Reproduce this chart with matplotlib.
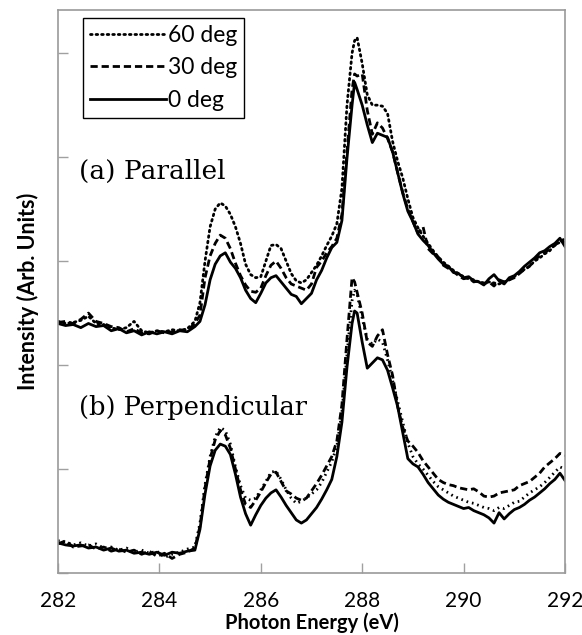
import matplotlib
matplotlib.use("Agg")
import matplotlib.pyplot as plt

# photon energy grid (eV)
energy = [282.0, 282.15, 282.3, 282.45, 282.6, 282.75, 282.9, 283.05, 283.2, 283.35,
          283.5, 283.65, 283.8, 283.95, 284.1, 284.25, 284.4, 284.55, 284.7,
          284.8, 284.9, 285.0, 285.1, 285.2, 285.3, 285.4, 285.5, 285.6, 285.7,
          285.8, 285.9, 286.0, 286.1, 286.2, 286.3, 286.4, 286.5, 286.6, 286.7,
          286.8, 286.9, 287.0, 287.1, 287.2, 287.3, 287.4, 287.5, 287.6, 287.7,
          287.8, 287.85, 287.9, 288.0, 288.1, 288.2, 288.3, 288.4, 288.5, 288.6,
          288.7, 288.8, 288.9, 289.0, 289.1, 289.2, 289.3, 289.4, 289.5, 289.6,
          289.7, 289.8, 289.9, 290.0, 290.1, 290.2, 290.3, 290.4, 290.5, 290.6,
          290.7, 290.8, 290.9, 291.0, 291.1, 291.2, 291.3, 291.4, 291.5, 291.6,
          291.7, 291.8, 291.9, 292.0]

# (a) Parallel
par_60 = [2.42, 2.40, 2.41, 2.43, 2.47, 2.40, 2.39, 2.36, 2.34, 2.36,
          2.42, 2.33, 2.31, 2.33, 2.32, 2.34, 2.33, 2.35, 2.42,
          2.60, 3.00, 3.33, 3.50, 3.56, 3.53, 3.45, 3.33, 3.17, 2.97,
          2.87, 2.84, 2.85, 3.00, 3.15, 3.16, 3.12, 3.00, 2.88, 2.81,
          2.79, 2.82, 2.89, 2.96, 3.05, 3.15, 3.24, 3.36, 3.70, 4.50,
          5.00, 5.12, 5.15, 4.90, 4.60, 4.50, 4.50, 4.49, 4.42, 4.15,
          3.96, 3.80, 3.60, 3.42, 3.32, 3.24, 3.17, 3.10, 3.04, 2.99,
          2.95, 2.91, 2.88, 2.85, 2.83, 2.82, 2.80, 2.79, 2.80, 2.79,
          2.78, 2.80, 2.82, 2.85, 2.89, 2.92, 2.95, 3.00, 3.03, 3.07,
          3.10, 3.16, 3.18, 3.22]
par_30 = [2.41, 2.42, 2.40, 2.44, 2.50, 2.42, 2.40, 2.37, 2.36, 2.32,
          2.35, 2.31, 2.30, 2.33, 2.31, 2.32, 2.34, 2.33, 2.40,
          2.48, 2.84, 3.05, 3.17, 3.25, 3.22, 3.12, 2.98, 2.86, 2.77,
          2.71, 2.70, 2.74, 2.86, 2.96, 3.00, 2.93, 2.84, 2.78, 2.76,
          2.74, 2.72, 2.78, 2.94, 3.00, 3.08, 3.14, 3.22, 3.45, 4.05,
          4.65, 4.80, 4.78, 4.80, 4.45, 4.22, 4.33, 4.28, 4.18, 4.05,
          3.85, 3.66, 3.50, 3.38, 3.27, 3.33, 3.12, 3.07, 3.04, 2.96,
          2.93, 2.90, 2.86, 2.83, 2.84, 2.80, 2.81, 2.78, 2.80, 2.76,
          2.82, 2.80, 2.82, 2.84, 2.88, 2.92, 2.95, 3.01, 3.05, 3.08,
          3.12, 3.15, 3.20, 3.18]
par_0 = [2.40, 2.38, 2.39, 2.36, 2.40, 2.37, 2.38, 2.33, 2.35, 2.31,
         2.33, 2.29, 2.32, 2.30, 2.32, 2.30, 2.33, 2.32, 2.37,
         2.42, 2.58, 2.82, 2.97, 3.05, 3.08, 2.99, 2.93, 2.84, 2.72,
         2.64, 2.60, 2.69, 2.79, 2.84, 2.86, 2.80, 2.74, 2.68, 2.66,
         2.59, 2.64, 2.69, 2.82, 2.91, 3.03, 3.13, 3.18, 3.39, 3.99,
         4.50, 4.72, 4.65, 4.50, 4.31, 4.14, 4.23, 4.21, 4.19, 4.05,
         3.85, 3.65, 3.48, 3.38, 3.26, 3.20, 3.15, 3.08, 3.02, 2.97,
         2.95, 2.89, 2.88, 2.84, 2.85, 2.81, 2.80, 2.77, 2.83, 2.87,
         2.81, 2.78, 2.84, 2.86, 2.90, 2.95, 2.99, 3.03, 3.08, 3.10,
         3.14, 3.17, 3.22, 3.14]

# (b) Perpendicular
perp_60 = [0.31, 0.30, 0.27, 0.29, 0.26, 0.28, 0.24, 0.25, 0.22, 0.24,
           0.20, 0.22, 0.19, 0.21, 0.15, 0.18, 0.20, 0.23, 0.25,
           0.48, 0.85, 1.12, 1.31, 1.40, 1.37, 1.24, 1.02, 0.84, 0.72,
           0.70, 0.72, 0.80, 0.88, 0.97, 0.98, 0.90, 0.80, 0.72, 0.67,
           0.69, 0.72, 0.76, 0.80, 0.87, 0.97, 1.07, 1.22, 1.55, 2.10,
           2.62, 2.72, 2.68, 2.45, 2.25, 2.20, 2.25, 2.22, 2.05, 1.85,
           1.65, 1.45, 1.25, 1.12, 1.05, 1.00, 0.94, 0.88, 0.83, 0.80,
           0.77, 0.74, 0.72, 0.70, 0.68, 0.67, 0.65, 0.63, 0.62, 0.60,
           0.63, 0.62, 0.65, 0.68, 0.69, 0.73, 0.77, 0.80, 0.83, 0.87,
           0.92, 0.97, 1.02, 1.00]
perp_30 = [0.28, 0.31, 0.25, 0.26, 0.27, 0.23, 0.25, 0.21, 0.23, 0.20,
           0.22, 0.18, 0.21, 0.16, 0.19, 0.14, 0.18, 0.20, 0.24,
           0.45, 0.82, 1.10, 1.28, 1.37, 1.33, 1.20, 1.00, 0.80, 0.66,
           0.63, 0.70, 0.78, 0.87, 0.95, 0.97, 0.88, 0.79, 0.76, 0.72,
           0.70, 0.72, 0.79, 0.86, 0.94, 1.03, 1.12, 1.27, 1.62, 2.25,
           2.84, 2.80, 2.70, 2.50, 2.22, 2.18, 2.28, 2.34, 2.10, 1.90,
           1.60, 1.40, 1.27, 1.22, 1.16, 1.08, 1.02, 0.96, 0.90, 0.87,
           0.85, 0.84, 0.82, 0.81, 0.80, 0.81, 0.78, 0.74, 0.73, 0.74,
           0.77, 0.78, 0.79, 0.80, 0.84, 0.86, 0.88, 0.92, 0.96, 1.02,
           1.06, 1.10, 1.15, 1.13]
perp_0 = [0.29, 0.27, 0.26, 0.27, 0.24, 0.25, 0.22, 0.24, 0.21, 0.22,
          0.19, 0.20, 0.18, 0.20, 0.17, 0.20, 0.19, 0.21, 0.22,
          0.42, 0.76, 1.03, 1.18, 1.24, 1.22, 1.14, 0.95, 0.73, 0.57,
          0.46, 0.56, 0.65, 0.72, 0.77, 0.80, 0.73, 0.65, 0.58, 0.51,
          0.48, 0.51, 0.57, 0.63, 0.71, 0.80, 0.90, 1.12, 1.45, 1.98,
          2.40, 2.52, 2.50, 2.22, 1.97, 2.02, 2.07, 2.05, 1.95, 1.78,
          1.60, 1.35, 1.10, 1.05, 1.02, 0.95, 0.87, 0.81, 0.75, 0.71,
          0.68, 0.66, 0.64, 0.62, 0.63, 0.60, 0.58, 0.56, 0.53, 0.48,
          0.58, 0.52, 0.57, 0.61, 0.63, 0.66, 0.70, 0.73, 0.77, 0.81,
          0.86, 0.90, 0.96, 0.89]

labels = ["60 deg", "30 deg", "0 deg"]
styles = [(0, (0.6, 1.4)), (0, (2.6, 1.4)), "-"]

fig = plt.figure(figsize=(5.82, 6.35), dpi=100)
ax = fig.add_axes([58 / 582, 1 - 573 / 635, 507 / 582, 563.5 / 635])

for y, ls, lab in zip([par_60, par_30, par_0], styles, labels):
    ax.plot(energy, y, color="black", lw=2.0, linestyle=ls, label=lab,
            dash_capstyle="round" if lab == "60 deg" else "butt")
for y, ls in zip([perp_60, perp_30, perp_0], styles):
    ax.plot(energy, y, color="black", lw=2.0, linestyle=ls,
            dash_capstyle="butt")

ax.set_xlim(282, 292)
ax.set_ylim(0, 5.42)
ax.set_xticks([282, 284, 286, 288, 290, 292])
ax.set_yticks([0, 1, 2, 3, 4, 5])
ax.set_yticklabels([])
ax.tick_params(direction="in", length=7, width=1, color="#a0a0a0")
ax.tick_params(axis="x", pad=13, labelsize=15)
for lab in ax.get_xticklabels():
    lab.set_fontfamily("Lato")
for sp in ax.spines.values():
    sp.set_color("#9a9a9a")
    sp.set_linewidth(1.2)

ax.set_xlabel("Photon Energy (eV)", fontsize=14.5, fontweight="bold",
              family="Lato", labelpad=1)
ax.set_ylabel("Intensity (Arb. Units)", fontsize=15.5, fontweight="bold",
              family="Lato", labelpad=10)

ax.text(282.41, 3.86, "(a) Parallel", fontsize=19, family="DejaVu Serif",
        va="center")
ax.text(282.41, 1.59, "(b) Perpendicular", fontsize=18.5, family="DejaVu Serif",
        va="center")

leg = ax.legend(loc="upper left", bbox_to_anchor=(25 / 507, 1 - 8.5 / 563.5),
                prop={"family": "Lato", "size": 16.5}, handlelength=3.3,
                handletextpad=0.1, labelspacing=0.5, borderpad=0.3,
                fancybox=False, framealpha=1, borderaxespad=0)
leg.get_frame().set_edgecolor("black")
leg.get_frame().set_linewidth(1.0)

fig.savefig("out.png", dpi=100)
